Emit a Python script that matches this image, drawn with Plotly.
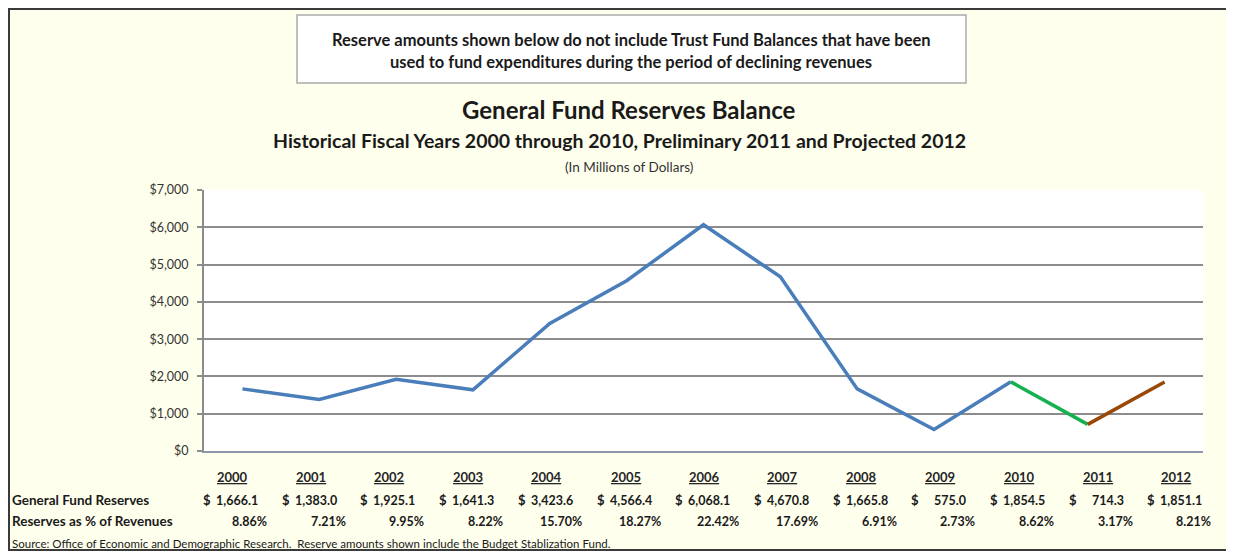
import plotly.graph_objects as go

years = ["2000", "2001", "2002", "2003", "2004", "2005", "2006",
         "2007", "2008", "2009", "2010", "2011", "2012"]
reserves = [1666.1, 1383.0, 1925.1, 1641.3, 3423.6, 4566.4, 6068.1,
            4670.8, 1665.8, 575.0, 1854.5, 714.3, 1851.1]
pct_revenues = ["8.86%", "7.21%", "9.95%", "8.22%", "15.70%", "18.27%", "22.42%",
                "17.69%", "6.91%", "2.73%", "8.62%", "3.17%", "8.21%"]
historical_end = 10   # index of 2010
preliminary_end = 11  # index of 2011

# page has an 8px body margin: figure is drawn from page pixel (8, 8)
OFF = 8
PAGE_W, PAGE_H = 1234, 552
W, H = PAGE_W - OFF, PAGE_H - OFF
PLOT_L, PLOT_R, PLOT_T, PLOT_B = 204, 1203, 190, 451   # page pixels
L, R, T, B = PLOT_L - OFF, PAGE_W - PLOT_R, PLOT_T - OFF, PAGE_H - PLOT_B
PW, PH = W - L - R, H - T - B

def px(x):
    return (x - OFF - L) / PW

def py(y):
    return (H - B - (y - OFF)) / PH

FONT = "Lato"
BLUE, GREEN, BROWN = "#4A7EBB", "#16B04E", "#984807"
GRID = "#8C8C8C"

fig = go.Figure()
fig.add_trace(go.Scatter(x=years[:historical_end + 1], y=reserves[:historical_end + 1],
                         mode="lines", line=dict(color=BLUE, width=3.5), name="Historical"))
fig.add_trace(go.Scatter(x=years[historical_end:preliminary_end + 1],
                         y=reserves[historical_end:preliminary_end + 1],
                         mode="lines", line=dict(color=GREEN, width=3.5), name="Preliminary"))
fig.add_trace(go.Scatter(x=years[preliminary_end:], y=reserves[preliminary_end:],
                         mode="lines", line=dict(color=BROWN, width=3.5), name="Projected"))

shapes = []
shapes.append(dict(type="rect", xref="paper", yref="paper", x0=px(9), x1=px(1232), y0=py(9), y1=py(550),
                   fillcolor="#FFFFEE", line=dict(color="#3A3A3A", width=2), layer="below"))
shapes.append(dict(type="rect", xref="paper", yref="paper", x0=0, x1=1, y0=0, y1=1,
                   fillcolor="white", line=dict(width=0), layer="below"))
# note box
shapes.append(dict(type="rect", xref="paper", yref="paper", x0=px(297), x1=px(966), y0=py(15), y1=py(83),
                   fillcolor="white", line=dict(color="#ABABAB", width=1.5)))

annotations = []
def txt(text, x, y, size, anchor="center", bold=True, color="#1A1A1A"):
    annotations.append(dict(text=f"<b>{text}</b>" if bold else text, xref="paper", yref="paper",
                            x=px(x), y=py(y), xanchor=anchor, yanchor="middle", showarrow=False,
                            font=dict(family=FONT, size=size, color=color)))

txt("Reserve amounts shown below do not include Trust Fund Balances that have been", 631, 40, 16.5)
txt("used to fund expenditures during the period of declining revenues", 631, 62, 16.5)
txt("General Fund Reserves Balance", 629, 109, 24)
txt("Historical Fiscal Years 2000 through 2010, Preliminary 2011 and Projected 2012", 619, 140, 19.5)
txt("(In Millions of Dollars)", 629, 167, 13.5, bold=False, color="#333333")

COL = 78.7
for i, yr in enumerate(years):
    txt(f"<u>{yr}</u>", 232 + i * COL, 477, 13, color="#262626")
    txt("$", 201 + i * COL, 500, 13, anchor="left")
    txt(f"{reserves[i]:,.1f}", 260 + i * COL, 500, 12.5, anchor="right")
    txt(pct_revenues[i], 269 + i * COL, 521, 12.5, anchor="right")

txt("General Fund Reserves", 10, 500, 13.5, anchor="left")
txt("Reserves as % of Revenues", 10, 521, 13.5, anchor="left")
txt("Source: Office of Economic and Demographic Research.  Reserve amounts shown include the Budget Stablization Fund.",
    10, 543, 11.5, anchor="left", bold=False)

fig.update_layout(
    width=W, height=H, autosize=False,
    margin=dict(l=L, r=R, t=T, b=B, pad=0),
    paper_bgcolor="white", plot_bgcolor="white",
    showlegend=False,
    shapes=shapes, annotations=annotations,
    xaxis=dict(type="category", range=[-0.5, 12.5], showticklabels=False, showgrid=False,
               zeroline=False, showline=True, linecolor="#8E96AA", linewidth=2, ticks=""),
    yaxis=dict(range=[0, 7000], dtick=1000, tickprefix="$", tickformat=",", showgrid=True,
               gridcolor=GRID, gridwidth=1.5, zeroline=False, showline=True, linecolor=GRID,
               linewidth=2, ticks="outside", ticklen=5, tickcolor=GRID, tickwidth=1.5,
               ticklabelstandoff=6,
               tickfont=dict(family=FONT, size=12.5, color="#333333")),
)

fig.write_html("out.html")
